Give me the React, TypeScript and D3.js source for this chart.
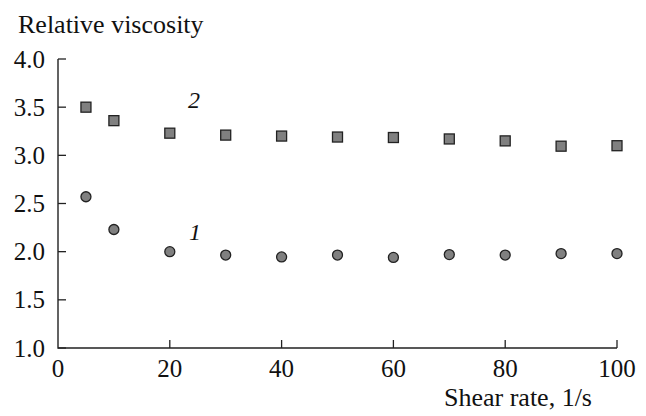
import React from "react";
import { scaleLinear } from "d3";

const shearRates = [5, 10, 20, 30, 40, 50, 60, 70, 80, 90, 100];
const viscosity1 = [2.57, 2.23, 2.0, 1.965, 1.945, 1.965, 1.94, 1.97, 1.965, 1.98, 1.98];
const viscosity2 = [3.5, 3.36, 3.23, 3.21, 3.2, 3.19, 3.185, 3.17, 3.15, 3.095, 3.1];
const xTicks = [0, 20, 40, 60, 80, 100];
const yTicks = [1.0, 1.5, 2.0, 2.5, 3.0, 3.5, 4.0];

const W = 646;
const H = 416;
const left = 58;
const right = 617;
const top = 59;
const bottom = 348;
const font = "'Liberation Serif', 'Times New Roman', serif";

const App = () => {
  const x = scaleLinear().domain([0, 100]).range([left, right]);
  const y = scaleLinear().domain([1, 4]).range([bottom, top]);

  return (
    <svg width={W} height={H} style={{ position: "absolute", left: 0, top: 0 }}>
      <rect width={W} height={H} fill="#fff" />
      {/* axes */}
      <path d={`M${left},${top}V${bottom}H${right}`} fill="none" stroke="#222" strokeWidth={1.4} />
      {yTicks.map((t) => (
        <g key={t}>
          <line x1={left} x2={left + 8} y1={y(t)} y2={y(t)} stroke="#222" strokeWidth={1.3} />
          <text x={45} y={y(t) + 8.5} textAnchor="end" fontFamily={font} fontSize={25} fill="#111">
            {t.toFixed(1)}
          </text>
        </g>
      ))}
      {xTicks.map((t) => (
        <g key={t}>
          {t > 0 && (
            <line x1={x(t)} x2={x(t)} y1={bottom} y2={bottom - 8} stroke="#222" strokeWidth={1.3} />
          )}
          <text x={x(t)} y={377} textAnchor="middle" fontFamily={font} fontSize={25} fill="#111">
            {t}
          </text>
        </g>
      ))}
      <text x={18} y={33} fontFamily={font} fontSize={26} fill="#111">
        Relative viscosity
      </text>
      <text x={592} y={406} textAnchor="end" fontFamily={font} fontSize={26} fill="#111">
        Shear rate, 1/s
      </text>

      {/* series 2: squares */}
      {shearRates.map((r, i) => (
        <rect
          key={"s" + r}
          x={x(r) - 5}
          y={y(viscosity2[i]) - 5}
          width={10}
          height={10}
          fill="#808080"
          stroke="#222"
          strokeWidth={1.3}
        />
      ))}
      {/* series 1: circles */}
      {shearRates.map((r, i) => (
        <circle
          key={"c" + r}
          cx={x(r)}
          cy={y(viscosity1[i])}
          r={5}
          fill="#808080"
          stroke="#222"
          strokeWidth={1.3}
        />
      ))}
      <text x={188} y={108} fontFamily={font} fontStyle="italic" fontSize={24} fill="#111">
        2
      </text>
      <text x={189} y={240} fontFamily={font} fontStyle="italic" fontSize={24} fill="#111">
        1
      </text>
    </svg>
  );
};

export default App;
